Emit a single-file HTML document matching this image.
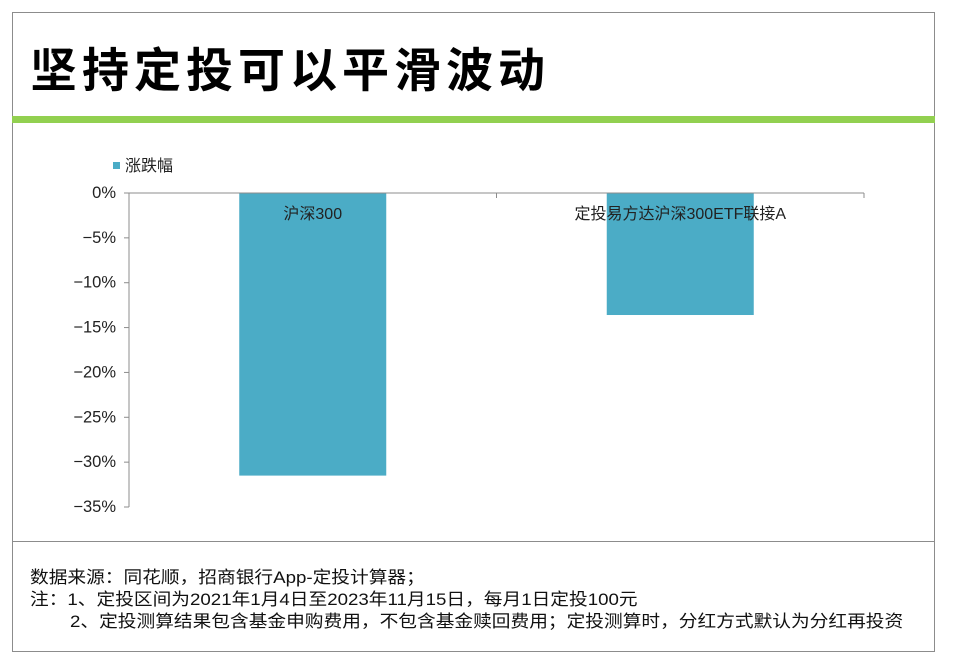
<!DOCTYPE html>
<html><head><meta charset="utf-8"><style>
body{margin:0;background:#fff;width:960px;height:661px;overflow:hidden;font-family:"Liberation Sans","Noto Sans CJK SC",sans-serif;}
#frame{position:absolute;left:12px;top:12px;width:921px;height:638px;border:1px solid #8c8c8c;}
#title{position:absolute;left:30px;top:32px;font-size:47px;font-weight:bold;letter-spacing:5px;color:#000;white-space:nowrap;}
#green{position:absolute;left:12px;top:116px;width:923px;height:7px;background:#92d050;}
#divider{position:absolute;left:12px;top:541px;width:923px;height:1px;background:#8c8c8c;}
.note{position:absolute;font-size:17px;color:#111;white-space:nowrap;transform-origin:0 0;transform:scaleX(1.1);}
svg{position:absolute;left:0;top:0;}
</style></head><body>
<div id="frame"></div>
<div id="title">坚持定投可以平滑波动</div>
<div id="green"></div>
<div id="divider"></div>
<div class="note" style="left:30px;top:563px">数据来源：同花顺，招商银行App-定投计算器；</div>
<div class="note" style="left:30px;top:585px">注：1、定投区间为2021年1月4日至2023年11月15日，每月1日定投100元</div>
<div class="note" style="left:70px;top:607px">2、定投测算结果包含基金申购费用，不包含基金赎回费用；定投测算时，分红方式默认为分红再投资</div>
<svg id="chart" width="960" height="661"></svg>
<script>
const categories=["沪深300","定投易方达沪深300ETF联接A"];
const values=[-31.5,-13.6];
const tickValues=[0,-5,-10,-15,-20,-25,-30,-35];
const tickLabels=["0%","−5%","−10%","−15%","−20%","−25%","−30%","−35%"];
const seriesName="涨跌幅";
const NS="http://www.w3.org/2000/svg";
const svg=document.getElementById('chart');
const x0=129,x1=864,y0=193,yPer=(507-193)/35;
function yScale(v){return y0-v*yPer;}
const band=(x1-x0)/categories.length;
function xBand(i){return x0+band*i;}
function mk(t,a,txt){const e=document.createElementNS(NS,t);for(const k in a)e.setAttribute(k,a[k]);if(txt!==undefined)e.textContent=txt;svg.appendChild(e);return e;}
values.forEach((v,i)=>{
 const bw=147,bx=xBand(i)+(band-bw)/2;
 const r=mk('rect',{x:bx,y:Math.min(yScale(0),yScale(v)),width:bw,height:Math.abs(yScale(v)-yScale(0)),fill:'#4bacc6'});
 
 
 const t=mk('text',{x:bx+bw/2,y:y0+26,'text-anchor':'middle','font-size':'16',fill:'#222'},categories[i]);
 
 
});
const ya=mk('line',{x1:x0,y1:yScale(0),x2:x0,y2:yScale(-35),stroke:'#8c8c8c','stroke-width':1});


const xa=mk('line',{x1:x0,y1:y0,x2:x1,y2:y0,stroke:'#8c8c8c','stroke-width':1});


for(let i=0;i<=categories.length;i++){
 const tk=mk('line',{x1:xBand(i),y1:y0,x2:xBand(i),y2:y0+5,stroke:'#8c8c8c'});
 
 
}
tickValues.forEach((v,i)=>{
 const y=yScale(v);
 const tk=mk('line',{x1:x0-5,y1:y,x2:x0,y2:y,stroke:'#8c8c8c'});
 
 
 const t=mk('text',{x:116,y:y+5,'text-anchor':'end','font-size':'16.5',fill:'#222'},tickLabels[i]);
 
 
});
const ls=mk('rect',{x:113,y:162,width:7,height:7,fill:'#4bacc6'});


const lt=mk('text',{x:125,y:171,'font-size':'16',fill:'#222'},seriesName);


</script>
</body></html>
